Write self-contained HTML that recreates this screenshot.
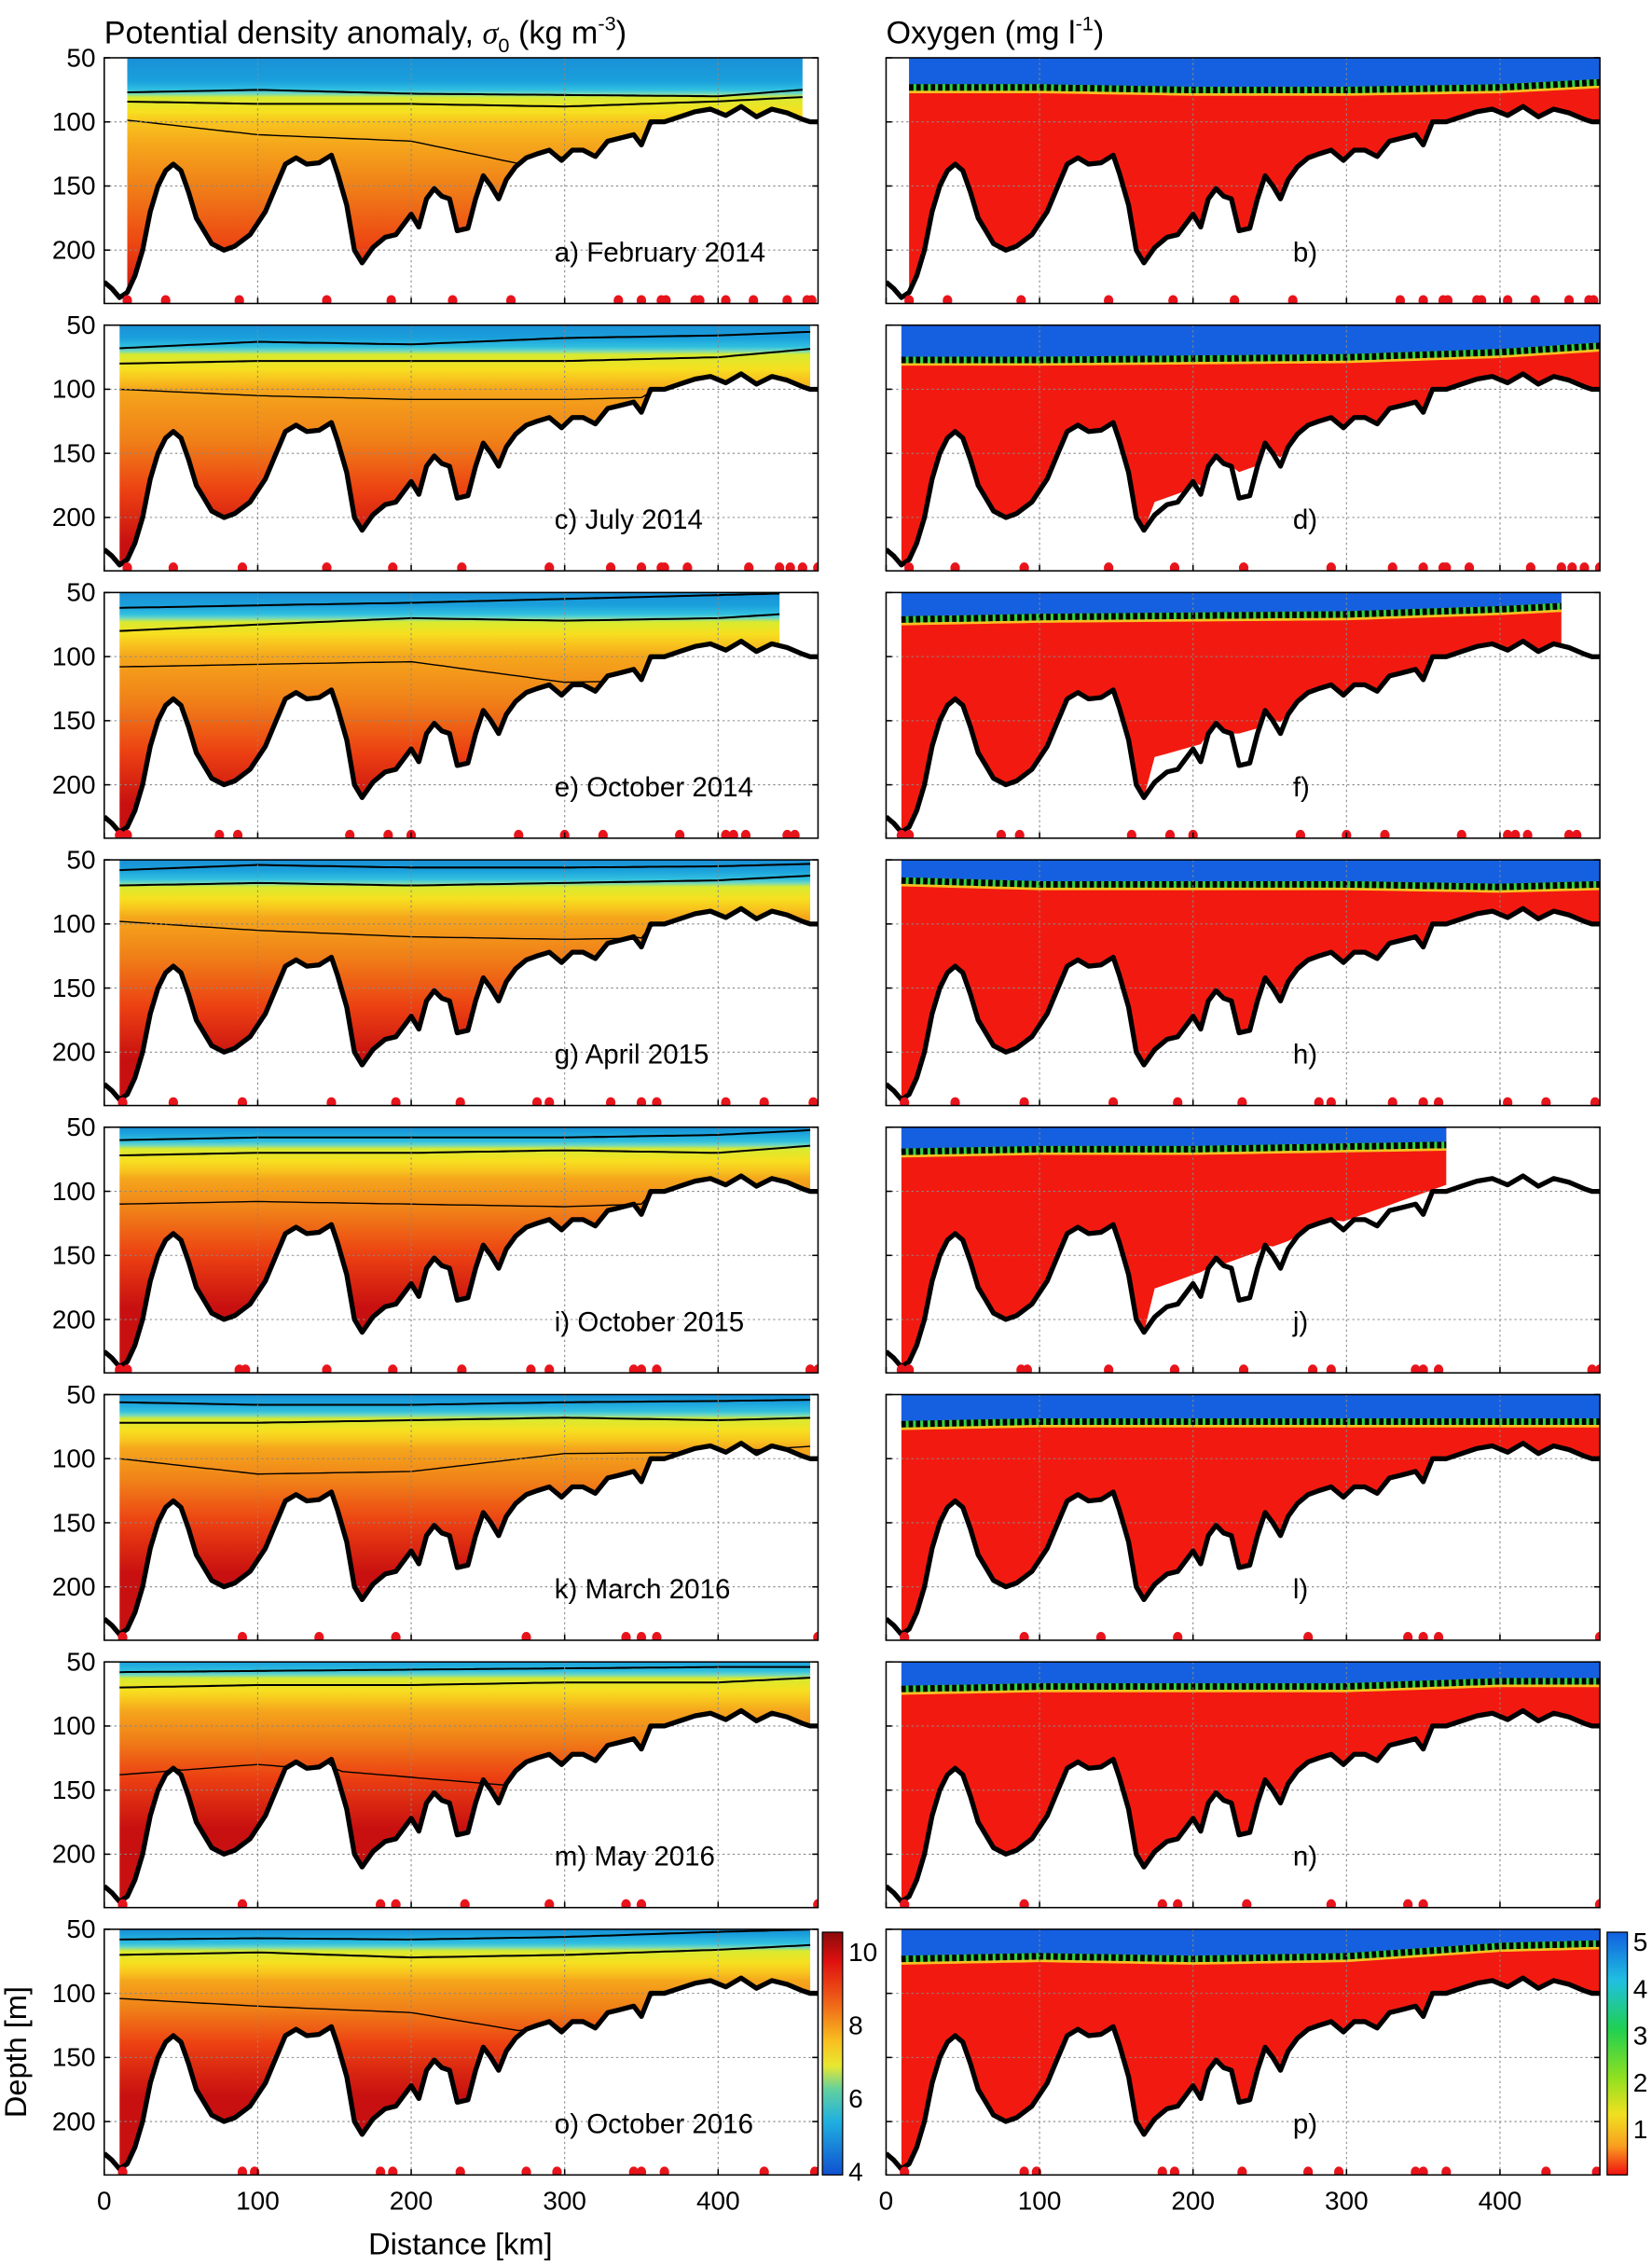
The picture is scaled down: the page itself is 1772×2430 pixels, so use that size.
<!DOCTYPE html>
<html><head><meta charset="utf-8">
<style>
html,body{margin:0;padding:0;background:#fff;}
svg{display:block;}
text{font-family:"Liberation Sans",sans-serif;fill:#000;}
</style></head>
<body>
<svg id="fig" xmlns="http://www.w3.org/2000/svg" width="1772" height="2430" viewBox="0 0 1141 1568" preserveAspectRatio="none">
<text x="72" y="30" font-size="22">Potential density anomaly, <tspan font-style="italic" font-family="Liberation Serif">σ</tspan><tspan font-size="14" dy="6">0</tspan><tspan dy="-6"> (kg m</tspan><tspan font-size="14" dy="-9">-3</tspan><tspan dy="9">)</tspan></text>
<text x="612" y="30" font-size="22">Oxygen (mg l<tspan font-size="14" dy="-9">-1</tspan><tspan dy="9">)</tspan></text>
<text x="318" y="1560" font-size="21" text-anchor="middle">Distance [km]</text>
<text transform="translate(18,1420) rotate(-90)" font-size="21" text-anchor="middle">Depth [m]</text>
</svg>
<script>
// ---- data ----
const bathKm =    [0,5,10,15,20,25,30,35,40,45,50,55,60,65,70,78,85,95,105,112,118,125,132,140,148,152,158,163,168,175,183,190,195,200,205,210,215,220,225,230,237,242,247,252,257,262,268,275,282,290,298,305,312,320,328,335,345,350,356,365,375,385,395,405,415,425,435,445,455,460,465];
const bathDepth = [225,230,237,233,220,200,170,150,138,133,138,155,175,185,195,200,197,188,170,150,133,128,133,132,126,140,165,200,210,198,190,188,180,172,182,160,152,158,160,185,183,160,142,150,160,145,135,128,125,122,130,122,122,127,115,113,110,118,100,100,96,92,90,95,88,96,90,93,98,100,100];
const depthTicks = [50,100,150,200];
const distTicks = [0,100,200,300,400];
const rowLabels = ["a)  February 2014","c)  July 2014","e)  October 2014","g)  April 2015","i)  October 2015","k)  March 2016","m) May 2016","o)  October 2016"];
const oxyLabels = ["b)","d)","f)","h)","j)","l)","n)","p)"];
const densStart = [15,10,10,10,10,10,10,10];
const densEnd = [455,460,440,460,460,460,460,460];
// isopycnal-ish depths: [blueEnd, yellow, orange, redOrange, red]
const densLayers = [[78,92,118,150,200],[70,84,100,140,180],[70,82,100,135,175],[68,80,95,125,165],[64,76,90,115,150],[66,78,92,118,150],[60,72,88,110,140],[64,76,90,112,140]];
const contourKm = [10,100,200,300,400,465];
const contour1 = [[77,75,78,79,80,74],[68,63,65,60,58,55],[62,60,58,55,52,50],[58,54,56,56,55,53],[60,58,58,58,56,52],[56,58,58,56,55,54],[58,57,56,55,54,54],[58,57,58,56,52,50]];
const contour2 = [[84,86,86,88,84,80],[80,78,78,78,75,68],[80,75,70,72,70,65],[70,68,70,68,66,62],[72,70,70,68,70,64],[72,72,70,68,70,68],[70,68,68,66,66,62],[70,68,72,70,66,62]];
const contour3 = [[98,110,115,140,120,100],[100,105,108,108,105,100],[108,106,104,120,118,110],[98,105,110,112,110,105],[110,108,110,112,108,100],[100,112,110,96,95,90],[138,130,140,150,140,120],[104,110,115,135,125,115]];
const oxyStart = [15,10,10,10,10,10,10,10];
const oxyEnd = [465,465,440,465,365,465,465,465];
const oxycline = [[72,72,74,74,72,68],[76,76,75,74,70,65],[70,68,67,66,62,58],[65,68,68,68,70,68],[68,66,66,64,62,60],[72,70,70,70,70,70],[70,68,68,68,64,64],[72,70,72,70,62,60]];
// lower cutoff of oxygen data: [km1, depth1, km2, depth2] (null = bathymetry)
const oxyCut = [null,[170,190,300,135],[170,180,440,90],null,[170,178,365,95],null,null,null];
const stations = [
 [15,40,88,145,187,227,265,335,350,363,366,385,388,405,423,445,458,461],
 [15,45,90,145,188,233,290,330,350,363,365,380,420,440,447,455,465],
 [10,15,75,87,160,185,200,270,300,325,375,405,410,418,445,450],
 [12,45,90,148,190,232,282,290,330,350,360,405,430,462],
 [10,15,88,92,145,188,233,278,290,345,350,360,460,465],
 [12,90,140,190,275,340,350,360,465],
 [12,90,180,190,235,290,340,350,465],
 [12,90,98,180,188,232,275,295,345,350,365,430,463,466]
];
const densBar = [4,6,8,10];
const oxyBar = [1,2,3,4,5];
// ---- helpers ----
const NS = "http://www.w3.org/2000/svg";
const svg = document.getElementById('fig');
const PL = 72, PR = 612, PW = 493, PH = 170;
const KM_PX = 1.06, M_PX = 0.887;
function rowTop(i){ return 40 + i*185; }
function xS(x0, km){ return x0 + km*KM_PX; }
function yS(top, d){ return top + (d-50)*M_PX; }
function bathAt(km){
  for(let i=1;i<bathKm.length;i++){ if(km<=bathKm[i]){ const t=(km-bathKm[i-1])/(bathKm[i]-bathKm[i-1]); return bathDepth[i-1]+t*(bathDepth[i]-bathDepth[i-1]); } }
  return bathDepth[bathDepth.length-1];
}
function interpArr(kms, vals, km){
  if(km<=kms[0]) return vals[0];
  for(let i=1;i<kms.length;i++){ if(km<=kms[i]){ const t=(km-kms[i-1])/(kms[i]-kms[i-1]); return vals[i-1]+t*(vals[i]-vals[i-1]); } }
  return vals[vals.length-1];
}
function mk(tag, attrs, parent){ const e=document.createElementNS(NS,tag); for(const k in attrs) e.setAttribute(k,attrs[k]); (parent||svg).appendChild(e); return e; }
function waterPoints(x0, top, ks, ke, cut){
  const pts=[[xS(x0,ks),yS(top,50)],[xS(x0,ke),yS(top,50)]];
  const kl=[ke]; for(let i=bathKm.length-1;i>=0;i--){ if(bathKm[i]<ke && bathKm[i]>ks) kl.push(bathKm[i]); } kl.push(ks);
  for(const k of kl){ let d=bathAt(k); if(cut && k>=cut[0] && k<=cut[2]){ const c=cut[1]+(k-cut[0])/(cut[2]-cut[0])*(cut[3]-cut[1]); d=Math.min(d,c);} pts.push([xS(x0,k),yS(top,d)]); }
  return pts.map(p=>p[0].toFixed(1)+','+p[1].toFixed(1)).join(' ');
}
const defs = mk('defs',{});
function drawFrame(g, x0, top){
  const gg = mk('g',{}, g);
   
  for(const d of depthTicks.slice(1)){ mk('line',{x1:x0,x2:x0+PW,y1:yS(top,d),y2:yS(top,d),stroke:'#888','stroke-width':0.7,'stroke-dasharray':'1.5,2'},gg); }
  for(const k of distTicks.slice(1)){ mk('line',{x1:xS(x0,k),x2:xS(x0,k),y1:top,y2:top+PH,stroke:'#888','stroke-width':0.7,'stroke-dasharray':'1.5,2'},gg); }
}
function drawAxes(g, x0, top, row, showY){
  for(const d of depthTicks){
    if(showY){
      const t=mk('text',{x:x0-6,y:yS(top,d)+6,'font-size':18,'text-anchor':'end'},g);
       
      t.textContent=d;
    }
    mk('line',{x1:x0,x2:x0+4,y1:yS(top,d),y2:yS(top,d),stroke:'#000','stroke-width':1},g);
    mk('line',{x1:x0+PW-4,x2:x0+PW,y1:yS(top,d),y2:yS(top,d),stroke:'#000','stroke-width':1},g);
  }
  for(const k of distTicks){
    mk('line',{x1:xS(x0,k),x2:xS(x0,k),y1:top+PH,y2:top+PH-4,stroke:'#000','stroke-width':1},g);
    if(row===7){
      const t=mk('text',{x:xS(x0,k),y:top+PH+24,'font-size':18,'text-anchor':'middle'},g);
       
      t.textContent=k;
    }
  }
}
function drawBathy(g, x0, top){
  const pts = bathKm.map((k,i)=>xS(x0,k).toFixed(1)+','+yS(top,bathDepth[i]).toFixed(1)).join(' ');
  const l=mk('polyline',{points:pts,fill:'none',stroke:'#000','stroke-width':3.4,'stroke-linejoin':'round'},g);
   
}
function drawStations(g, x0, top, row){
  for(const k of stations[row]){
    const c=mk('ellipse',{cx:xS(x0,k),cy:top+PH-2,rx:3.3,ry:3.8,fill:'#e8141c'},g);
     
  }
}
for(let r=0;r<8;r++){
  const top=rowTop(r);
  const cpL=mk('clipPath',{id:'cl'+r},defs); mk('rect',{x:PL,y:top,width:PW,height:PH},cpL);
  const cpR=mk('clipPath',{id:'cr'+r},defs); mk('rect',{x:PR,y:top,width:PW,height:PH},cpR);
  const L=densLayers[r];
  const gr=mk('linearGradient',{id:'dg'+r,gradientUnits:'userSpaceOnUse',x1:0,y1:yS(top,50),x2:0,y2:yS(top,240)},defs);
  const off=d=>Math.max(0,Math.min(1,(d-50)/190)).toFixed(3);
  const stops=[[50,'#1a90d6'],[L[0]-10,'#1aa0dc'],[L[0]-3,'#30c0e0'],[L[0],'#70d8c0'],[L[0]+3,'#d8ea30'],[L[1],'#f6e020'],[L[1]+8,'#f8c41e'],[L[2],'#f5a61c'],[L[3],'#f08018'],[L[4],'#ec4012'],[L[4]+40,'#c81010']];
  for(const s of stops) mk('stop',{offset:off(s[0]),'stop-color':s[1]},gr);

  const gL=mk('g',{});
   
  const inner=mk('g',{'clip-path':'url(#cl'+r+')'},gL);
  const wp=mk('polygon',{points:waterPoints(PL,top,densStart[r],densEnd[r],null),fill:'url(#dg'+r+')'},inner);
   
  for(const cArr of [contour1,contour2,contour3]){
    const ks=[]; for(let k=densStart[r];k<=densEnd[r];k+=5) ks.push(k);
    const pts=ks.map(k=>{const d=Math.min(interpArr(contourKm,cArr[r],k),bathAt(k)); return xS(PL,k).toFixed(1)+','+yS(top,d).toFixed(1);}).join(' ');
    const cl=mk('polyline',{points:pts,fill:'none',stroke:'#000','stroke-width':cArr===contour3?0.9:1.3},inner);
     
  }
  drawFrame(inner,PL,top);
  drawBathy(inner,PL,top);
  drawStations(inner,PL,top,r);
  mk('rect',{x:PL,y:top,width:PW,height:PH,fill:'none',stroke:'#000','stroke-width':1},gL);
  drawAxes(gL,PL,top,r,true);
  const lbl=mk('text',{x:PL+311,y:top+141,'font-size':19},gL);
   
  lbl.textContent=rowLabels[r];

  const gR=mk('g',{});
   
  const inR=mk('g',{'clip-path':'url(#cr'+r+')'},gR);
  const ks=oxyStart[r], ke=oxyEnd[r];
  const op=mk('polygon',{points:waterPoints(PR,top,ks,ke,oxyCut[r]),fill:'#f21a10'},inR);
   
  const kk=[]; for(let k=ks;k<=ke;k+=5) kk.push(k);
  const ocPts=kk.map(k=>[xS(PR,k),yS(top,interpArr(contourKm,oxycline[r],k))]);
  const blue=[[xS(PR,ks),yS(top,50)],[xS(PR,ke),yS(top,50)]].concat(ocPts.slice().reverse());
  const band=ocPts.concat(ocPts.slice().reverse().map(p=>[p[0],p[1]+5]));
  mk('polygon',{points:band.map(p=>p.join(',')).join(' '),fill:'#f8c020'},inR);
  const bl=mk('polygon',{points:blue.map(p=>p.join(',')).join(' '),fill:'#1560e0'},inR);
   
  const ocStr=ocPts.map(p=>p[0].toFixed(1)+','+(p[1]+1).toFixed(1)).join(' ');
  mk('polyline',{points:ocStr,fill:'none',stroke:'#30d040','stroke-width':4.5},inR);
  const oc=mk('polyline',{points:ocStr,fill:'none',stroke:'#000','stroke-width':4.5,'stroke-dasharray':'3,2'},inR);
   
  drawFrame(inR,PR,top);
  drawBathy(inR,PR,top);
  drawStations(inR,PR,top,r);
  mk('rect',{x:PR,y:top,width:PW,height:PH,fill:'none',stroke:'#000','stroke-width':1},gR);
  drawAxes(gR,PR,top,r,false);
  const ol=mk('text',{x:PR+281,y:top+141,'font-size':19},gR);
   
  ol.textContent=oxyLabels[r];
}
// ---- colorbars ----
const cbTop=1337, cbH=168;
const dgb=mk('linearGradient',{id:'dcb',x1:0,y1:0,x2:0,y2:1},defs);
[[0,'#8a0a0a'],[0.12,'#e01010'],[0.3,'#f06818'],[0.45,'#f8c020'],[0.55,'#e8e830'],[0.65,'#60d0a0'],[0.78,'#20b0e0'],[1,'#1050d0']].forEach(s=>mk('stop',{offset:s[0],'stop-color':s[1]},dgb));
const ogb=mk('linearGradient',{id:'ocb',x1:0,y1:0,x2:0,y2:1},defs);
[[0,'#1060e0'],[0.2,'#20c0e0'],[0.4,'#20d050'],[0.6,'#90e020'],[0.75,'#f0e020'],[0.88,'#f8a020'],[1,'#f01010']].forEach(s=>mk('stop',{offset:s[0],'stop-color':s[1]},ogb));
const dcb=mk('g',{});  
mk('rect',{x:568,y:cbTop,width:14,height:cbH,fill:'url(#dcb)',stroke:'#000','stroke-width':0.8},dcb);
for(const v of densBar){
  const y=cbTop+cbH-3-(v-4)*(cbH-6)/6.4;
  const t=mk('text',{x:586,y:y+7,'font-size':18},dcb);
   
  t.textContent=v;
}
const ocbG=mk('g',{});  
mk('rect',{x:1110,y:cbTop,width:14,height:cbH,fill:'url(#ocb)',stroke:'#000','stroke-width':0.8},ocbG);
for(const v of oxyBar){
  const y=cbTop+cbH-v*(cbH-6)/5;
  const t=mk('text',{x:1128,y:y+7,'font-size':18},ocbG);
   
  t.textContent=v;
}
</script>
</body></html>
